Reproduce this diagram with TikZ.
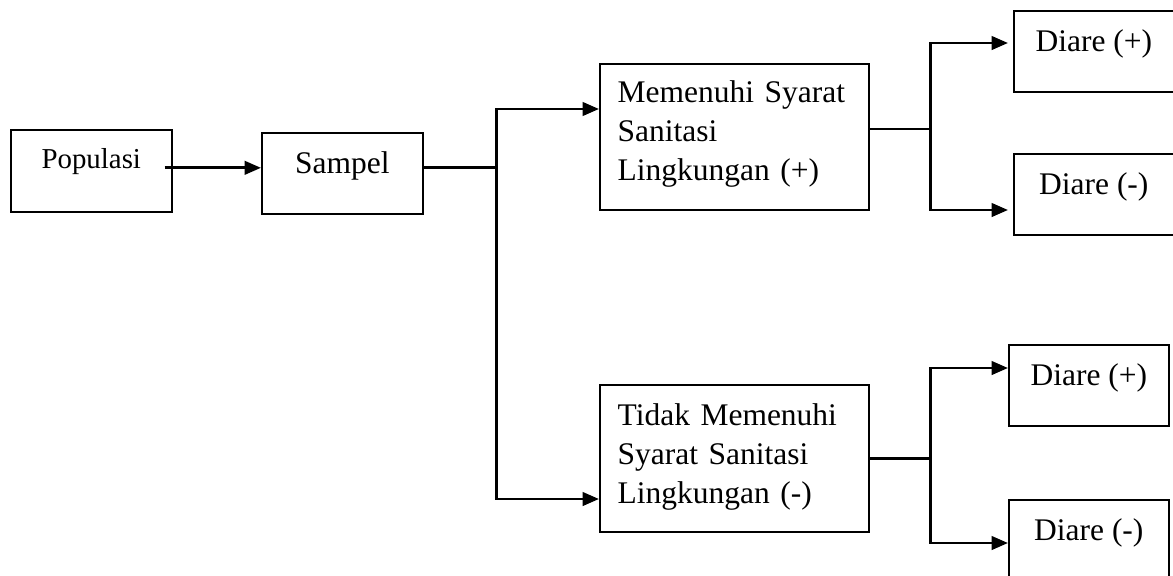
\documentclass[tikz,border=0pt]{standalone}
\usepackage{fontspec}
\setmainfont{Liberation Serif}
\usetikzlibrary{arrows.meta,calc}

\begin{document}
\begin{tikzpicture}[x=0.0134cm, y=-0.0134cm,
	kotak/.style={draw, line width=0.6pt, inner sep=0pt, minimum width=2.144cm, text height=0.549cm, text depth=0.536cm, font=\fontsize{12}{14.87}\selectfont, anchor=north west},
	kotakpanjang/.style={draw, line width=0.6pt, inner ysep=0pt, inner xsep=0.24cm, text width=3.125cm, align=left, font=\fontsize{12}{14.87}\selectfont, anchor=north west},
	garis/.style={line width=1.1pt},
	panah/.style={line width=1.1pt, -{Triangle[length=0.22cm, width=0.18cm]}}]
		%%%%% START %%%%%
		\clip (0,0) rectangle (1173,575);
		
		\node[kotak, minimum width=2.157cm, text height=0.523cm, text depth=0.576cm, font=\fontsize{11}{13}\selectfont] (populasi) at (10,129) {Populasi};
		\node[kotak, minimum width=2.157cm] (sampel) at (261,132) {Sampel};
		
		\node[kotakpanjang, text height=0.523cm, text depth=1.434cm] (memenuhi) at (599,63) {Memenuhi Syarat\\Sanitasi\\Lingkungan (+)};
		\node[kotakpanjang, text height=0.549cm, text depth=1.42cm] (tidak) at (599,384) {Tidak Memenuhi\\Syarat Sanitasi\\Lingkungan (-)};
		
		\node[kotak] (diare1) at (1013,10) {Diare (+)};
		\node[kotak] (diare2) at (1013,153) {Diare (-)};
		\node[kotak] (diare3) at (1008,344) {Diare (+)};
		\node[kotak] (diare4) at (1008,499) {Diare (-)};
		
		\coordinate (p1) at ([xshift=-0.107cm,yshift=0.04cm]populasi.east);
		\draw[panah] (p1) -- (p1 -| sampel.west);
		
		\draw[garis] ([yshift=0.074cm]sampel.east) -- ++(73,0) coordinate (cabang1);
		\draw[panah] (cabang1) |- ($(memenuhi.north west)+(0,46)$);
		\draw[panah] (cabang1) |- ($(tidak.north west)+(0,115)$);
		
		\draw[garis] ($(memenuhi.north east)+(0,66)$) -- ++(61,0) coordinate (cabang2);
		\draw[panah] (cabang2) |- ($(diare1.north west)+(-5,33)$);
		\draw[panah] (cabang2) |- ($(diare2.north west)+(-5,57)$);
		
		\draw[garis] (tidak.east) -- ++(61,0) coordinate (cabang3);
		\draw[panah] (cabang3) |- ($(diare3.north west)+(0,24)$);
		\draw[panah] (cabang3) |- ($(diare4.north west)+(0,44)$);
		
		%%%%% END %%%%%
	\end{tikzpicture}
\end{document}
